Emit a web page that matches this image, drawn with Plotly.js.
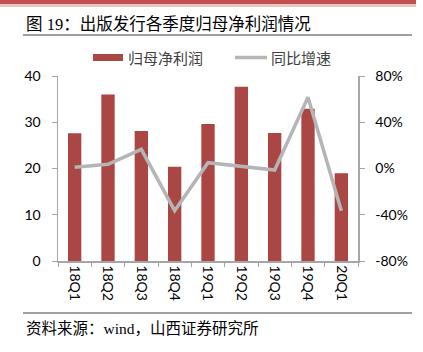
<!DOCTYPE html>
<html>
<head>
<meta charset="utf-8">
<script src="https://cdn.plot.ly/plotly-3.0.1.min.js"></script>
<style>html,body{margin:0;padding:0;background:#fff;}#chart{width:423px;height:352px;}</style>
</head>
<body>
<div id="chart"></div>
<script>
const categories = ['18Q1','18Q2','18Q3','18Q4','19Q1','19Q2','19Q3','19Q4','20Q1'];
const profit = [27.6, 36.0, 28.1, 20.4, 29.6, 37.7, 27.7, 32.9, 19.0];
const growth = [1.0, 3.6, 16.6, -36.5, 5.0, 2.0, -1.3, 61.6, -36.5];
const seriesNames = ['归母净利润', '同比增速'];
const leftTicks = [0, 10, 20, 30, 40];
const rightTicks = [-80, -40, 0, 40, 80];
const rightTickText = ['-80%', '-40%', '0%', '40%', '80%'];

const L = 58, R = 358, T = 76, B = 261;
const px = x => (x - L) / (R - L);
const py = y => (B - y) / (B - T);

const barColor = '#AA4643';
const lineColor = '#B5B5B5';
const axisColor = '#A6A6A6';
const tickFont = {family: 'Lato, "Open Sans", "Noto Sans CJK SC", sans-serif', size: 14, color: '#000'};
const cjk = '"Liberation Serif", "Noto Sans CJK SC", serif';

const data = [
  {type: 'bar', x: categories, y: profit, name: seriesNames[0], marker: {color: barColor}, width: 0.4, yaxis: 'y', showlegend: false},
  {type: 'scatter', mode: 'lines', x: categories, y: growth, name: seriesNames[1], line: {color: lineColor, width: 3.5}, yaxis: 'y2', showlegend: false}
];

const layout = {
  width: 423, height: 352,
  margin: {l: L, r: 423 - R, t: T, b: 352 - B},
  paper_bgcolor: '#fff', plot_bgcolor: '#fff',
  showlegend: false,
  xaxis: {type: 'category', tickangle: 90, ticks: 'outside', tickson: 'boundaries', ticklen: 4, tickcolor: axisColor,
          showline: true, linecolor: axisColor, linewidth: 1.5, showgrid: false, tickfont: tickFont, fixedrange: true},
  yaxis: {range: [0, 40], tickmode: 'array', tickvals: leftTicks, ticks: 'outside', ticklen: 5, tickcolor: axisColor, showline: true,
          linecolor: axisColor, linewidth: 1.5, showgrid: false, zeroline: false, tickfont: tickFont, ticklabelstandoff: 8},
  yaxis2: {range: [-80, 80], tickmode: 'array', tickvals: rightTicks, ticktext: rightTickText, overlaying: 'y', side: 'right', ticks: 'outside', ticklen: 5,
           tickcolor: axisColor, showline: true, linecolor: axisColor, linewidth: 1.5, showgrid: false, zeroline: false,
           tickfont: tickFont, ticklabelstandoff: 8},
  shapes: [
    {type: 'rect', xref: 'paper', yref: 'paper', x0: px(0), x1: px(416), y0: py(0), y1: py(4), fillcolor: '#C0504D', line: {width: 0}, layer: 'below'},
    {type: 'rect', xref: 'paper', yref: 'paper', x0: px(0), x1: px(416), y0: py(4), y1: py(7), fillcolor: '#EAC4C3', line: {width: 0}, layer: 'below'},
    {type: 'line', xref: 'paper', yref: 'paper', x0: px(23), x1: px(412), y0: py(35), y1: py(35), line: {color: '#404040', width: 1}},
    {type: 'line', xref: 'paper', yref: 'paper', x0: px(23), x1: px(412), y0: py(313), y1: py(313), line: {color: '#404040', width: 1}},
    {type: 'rect', xref: 'paper', yref: 'paper', x0: px(93), x1: px(123), y0: py(61), y1: py(54), fillcolor: barColor, line: {width: 0}},
    {type: 'line', xref: 'paper', yref: 'paper', x0: px(235), x1: px(267), y0: py(57.5), y1: py(57.5), line: {color: lineColor, width: 3.5}}
  ],
  annotations: [
    {text: '图 19：出版发行各季度归母净利润情况', xref: 'paper', yref: 'paper', x: px(24), y: py(25), xanchor: 'left', yanchor: 'middle',
     showarrow: false, font: {family: cjk, size: 16.5, color: '#000'}},
    {text: '资料来源：wind，山西证券研究所', xref: 'paper', yref: 'paper', x: px(24), y: py(328), xanchor: 'left', yanchor: 'middle',
     showarrow: false, font: {family: cjk, size: 15.5, color: '#000'}},
    {text: seriesNames[0], xref: 'paper', yref: 'paper', x: px(126), y: py(57.5), xanchor: 'left', yanchor: 'middle',
     showarrow: false, font: {family: '"Noto Sans CJK SC", sans-serif', size: 15, color: '#404040'}},
    {text: seriesNames[1], xref: 'paper', yref: 'paper', x: px(269), y: py(57.5), xanchor: 'left', yanchor: 'middle',
     showarrow: false, font: {family: '"Noto Sans CJK SC", sans-serif', size: 15, color: '#404040'}}
  ]
};

Plotly.newPlot('chart', data, layout, {displayModeBar: false, staticPlot: true});
</script>
</body>
</html>
